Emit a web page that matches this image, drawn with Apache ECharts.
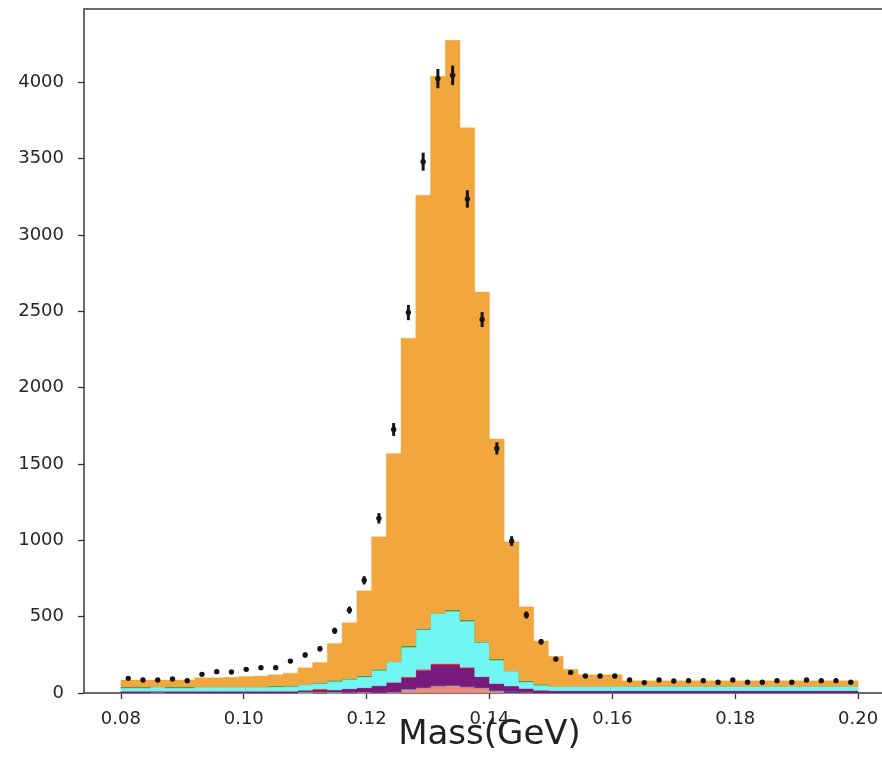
<!DOCTYPE html>
<html><head><meta charset="utf-8">
<script src="https://cdn.jsdelivr.net/npm/echarts@6/dist/echarts.min.js"></script>
<style>html,body{margin:0;padding:0;background:#fff;overflow:hidden}#c{width:900px;height:774px}</style>
</head><body><div id="c"></div>
<script>
// Histogram binning (50 bins from 0.08 GeV, width 0.0024 GeV)
const binStart = 0.08;
const binWidth = 0.0024;
const xTicks = [0.08, 0.10, 0.12, 0.14, 0.16, 0.18, 0.20];
const yTicks = [0, 500, 1000, 1500, 2000, 2500, 3000, 3500, 4000];

// Stacked MC components (bottom -> top), counts per bin
const salmon = [0,0,0,0,0,0,0,0,0,0, 0,0,0,0,0,0,0,0,0,18, 32,42,45,42,30,15,0,0,0,0, 0,0,0,0,0,0,0,0,0,0, 0,0,0,0,0,0,0,0,0,0];
const brick = [0,0,0,0,0,0,0,0,0,0, 0,0,0,8,0,0,0,0,0,0, 0,0,0,0,0,0,0,0,0,0, 0,0,0,0,0,0,0,0,0,0, 0,0,0,0,0,0,0,0,0,0];
const lavender = [0,0,0,0,0,0,0,0,0,0, 0,0,0,0,0,5,0,4,0,8, 0,0,0,0,0,0,0,5,0,0, 0,0,0,0,0,0,0,0,0,0, 0,0,0,0,0,0,0,0,0,0];
const tan = [0,0,5,0,0,0,0,0,0,0, 0,0,0,0,0,0,6,0,6,0, 4,5,5,0,5,0,0,0,0,0, 0,0,0,0,0,0,0,0,0,0, 0,0,0,0,0,0,0,0,0,0];
const lightgreen = [0,0,0,0,0,0,0,0,0,0, 0,0,7,0,6,0,0,0,0,0, 0,0,0,0,0,0,0,0,0,0, 0,0,0,0,0,0,0,0,0,0, 0,0,0,0,0,0,0,0,0,0];
const blue = [0,0,0,0,0,0,0,0,0,0, 0,0,0,0,0,0,0,0,0,0, 0,0,0,0,0,3,8,0,0,0, 0,0,0,0,0,0,0,0,0,0, 0,0,0,0,0,0,0,0,0,0];
const purple = [12,12,7,12,12,12,12,12,12,12, 12,12,11,14,14,23,29,44,61,76, 111,137,134,121,72,45,38,25,18,15, 15,15,15,15,15,15,15,15,15,15, 15,15,15,15,15,15,15,15,15,15];
const red = [0,0,0,0,0,0,0,0,0,0, 0,0,0,6,0,0,0,0,3,5, 8,10,10,5,0,0,0,0,0,0, 0,0,0,0,0,0,0,0,0,0, 0,0,0,0,0,0,0,0,0,0];
const cyan = [20,20,28,20,20,28,28,28,28,28, 28,30,37,34,55,60,70,100,135,193, 260,328,341,302,223,152,99,42,32,30, 30,30,30,30,30,30,30,30,30,30, 30,30,30,30,30,30,30,30,30,30];
const green = [7,7,0,7,7,0,0,0,0,0, 7,7,0,7,8,7,8,8,0,10, 8,0,10,8,8,8,0,8,7,0, 0,0,0,0,0,0,0,0,0,0, 0,0,0,0,0,0,0,0,0,0];
const orange = [46,46,45,46,46,60,60,63,68,72, 73,81,110,131,242,365,557,867,1364,2014, 2837,3517,3730,3225,2289,1440,845,485,283,195, 110,75,75,75,35,35,35,35,35,35, 35,35,35,35,35,35,35,35,35,35];

// Data points and their errors
const dataCounts = [96,85,85,92,81,122,140,138,155,166, 166,209,249,290,408,543,738,1144,1726,2492, 3480,4024,4046,3236,2446,1602,995,511,336,222, 135,111,111,111,85,68,85,79,81,81, 70,85,70,70,81,70,85,81,81,70];
const dataErrors = [10,9,9,10,9,11,12,12,12,13, 13,14,16,17,20,23,27,34,42,50, 59,63,64,57,49,40,32,23,18,15, 12,11,11,11,9,8,9,9,9,9, 8,9,8,8,9,8,9,9,9,8];

const layers = [
  {name:'salmon', color:'#E98B7E', v:salmon},
  {name:'brick', color:'#C84B3C', v:brick},
  {name:'lavender', color:'#B0A8CB', v:lavender},
  {name:'tan', color:'#D9A35C', v:tan},
  {name:'lightgreen', color:'#7CEB7C', v:lightgreen},
  {name:'blue', color:'#2044E0', v:blue},
  {name:'purple', color:'#781B7D', v:purple},
  {name:'red', color:'#E5332A', v:red},
  {name:'cyan', color:'#72F6F4', v:cyan},
  {name:'green', color:'#3E9B3E', v:green},
  {name:'orange', color:'#F1A73D', v:orange}
];

const n = orange.length;
const cum = new Array(n).fill(0);
const series = [];
layers.forEach(L => {
  const base = cum.slice();
  for (let i = 0; i < n; i++) cum[i] += L.v[i];
  const top = cum.slice();
  series.push({
    type: 'custom', name: L.name, silent: true,
    data: [[0.1, 100]],
    renderItem: (params, api) => {
      const pts = [];
      for (let i = 0; i < n; i++) {
        const x0 = binStart + i * binWidth, x1 = x0 + binWidth;
        pts.push(api.coord([x0, top[i]]), api.coord([x1, top[i]]));
      }
      for (let i = n - 1; i >= 0; i--) {
        const x0 = binStart + i * binWidth, x1 = x0 + binWidth;
        pts.push(api.coord([x1, base[i]]), api.coord([x0, base[i]]));
      }
      return {type: 'polygon', shape: {points: pts}, style: {fill: L.color, stroke: L.color, lineWidth: 0.3}};
    }
  });
});

series.push({
  type: 'custom', name: 'data', silent: true,
  data: dataCounts.map((v, i) => [binStart + (i + 0.5) * binWidth, v, dataErrors[i]]),
  renderItem: (params, api) => {
    const x = api.value(0), y = api.value(1), e = api.value(2);
    const c = api.coord([x, y]);
    const lo = api.coord([x, y - e]);
    const hi = api.coord([x, y + e]);
    return {type: 'group', children: [
      {type: 'rect', shape: {x: c[0] - 1.5, y: hi[1], width: 3, height: Math.max(lo[1] - hi[1], 1)}, style: {fill: '#151515'}},
      {type: 'circle', shape: {cx: c[0], cy: c[1], r: 2.7}, style: {fill: '#151515'}}
    ]};
  }
});

const chart = echarts.init(document.getElementById('c'), null, {renderer: 'canvas'});
const font = 'DejaVu Sans';
chart.setOption({
  animation: false,
  backgroundColor: '#ffffff',
  grid: {left: 84, top: 9, right: 5, bottom: 81, show: true, borderColor: '#3a3a3a', borderWidth: 1.5, containLabel: false},
  xAxis: {
    type: 'value', min: 0.074, max: 0.206,
    name: 'Mass(GeV)', nameLocation: 'middle', nameGap: 25, nameMoveOverlap: false,
    nameTextStyle: {fontSize: 34, color: '#222', fontFamily: font},
    axisLine: {show: false},
    splitLine: {show: false},
    axisTick: {show: true, length: 6, lineStyle: {color: '#333', width: 1.3}, customValues: xTicks},
    axisLabel: {show: true, fontSize: 18, color: '#262626', fontFamily: font, margin: 17, customValues: xTicks,
      formatter: v => v.toFixed(2)}
  },
  yAxis: {
    type: 'value', min: 0, max: 4480,
    axisLine: {show: false},
    splitLine: {show: false},
    axisTick: {show: true, length: 6, lineStyle: {color: '#333', width: 1.3}, customValues: yTicks},
    axisLabel: {show: true, fontSize: 18, color: '#262626', fontFamily: font, margin: 20, customValues: yTicks,
      formatter: v => String(v)}
  },
  series: series
});
</script>
</body></html>
